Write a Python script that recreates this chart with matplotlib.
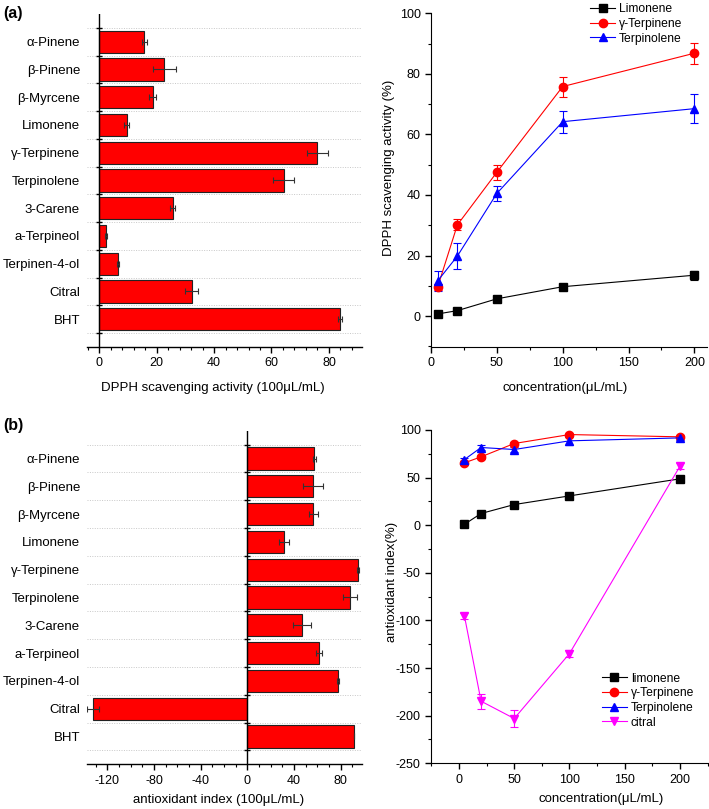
import numpy as np
import matplotlib
matplotlib.use("Agg")
import matplotlib.pyplot as plt
from matplotlib.ticker import MultipleLocator
from matplotlib.lines import Line2D

plt.rcParams['font.family'] = ['Liberation Sans', 'DejaVu Sans']
plt.rcParams['font.size'] = 9.5
plt.rcParams['axes.unicode_minus'] = False

# data
compounds = ["α-Pinene", "β-Pinene", "β-Myrcene", "Limonene", "γ-Terpinene",
             "Terpinolene", "3-Carene", "a-Terpineol", "Terpinen-4-ol", "Citral", "BHT"]
dpph_bar = [15.8, 22.7, 18.7, 9.6, 75.9, 64.2, 25.6, 2.5, 6.7, 32.3, 83.7]
dpph_bar_err = [1.0, 3.9, 1.2, 0.8, 3.6, 3.7, 0.8, 0.3, 0.3, 2.3, 0.7]
aoi_bar = [57.4, 56.6, 56.6, 31.7, 94.6, 88.0, 47.1, 61.7, 78.0, -132.5, 91.4]
aoi_bar_err = [1.5, 8.6, 3.6, 4.3, 0.8, 6.4, 7.9, 2.5, 1.0, 5.0, 0.3]

conc = [5, 20, 50, 100, 200]
dpph_lim = [0.7, 1.8, 5.7, 9.7, 13.5]
dpph_lim_err = [0.5, 0.6, 0.6, 0.6, 1.5]
dpph_gter = [9.5, 30.1, 47.5, 75.8, 86.8]
dpph_gter_err = [1.0, 1.8, 2.5, 3.3, 3.4]
dpph_terp = [11.6, 19.8, 40.5, 64.2, 68.5]
dpph_terp_err = [3.3, 4.3, 2.5, 3.6, 4.7]

aoi_lim = [1.0, 12.3, 21.7, 30.8, 48.7]
aoi_lim_err = [3.0, 3.0, 2.0, 3.0, 3.5]
aoi_gter = [65.5, 71.8, 85.8, 95.2, 92.8]
aoi_gter_err = [2.0, 2.0, 2.0, 1.5, 1.5]
aoi_terp = [69.0, 81.6, 79.5, 88.6, 91.7]
aoi_terp_err = [2.0, 2.5, 2.5, 4.0, 2.0]
aoi_cit = [-95.6, -184.8, -203.0, -134.8, 62.0]
aoi_cit_err = [3.0, 7.9, 9.0, 3.5, 3.0]

fig = plt.figure(figsize=(7.09, 8.09), dpi=100)


def bar_panel(ax, vals, errs, xlim, major, minor, xlabel, lpad, lx):
    y = np.arange(len(compounds))
    ax.barh(y, vals, height=0.8, color='#ff0000', edgecolor='#222222', linewidth=0.8,
            xerr=errs, error_kw=dict(ecolor='#333333', elinewidth=0.8, capsize=2.5, capthick=0.8))
    ax.set_ylim(len(compounds), -1)
    ax.set_xlim(*xlim)
    bounds = np.arange(len(compounds) + 1) - 0.5
    ax.set_yticks(y)
    ax.set_yticklabels(compounds)
    ax.set_yticks(bounds, minor=True)
    ax.tick_params(axis='y', which='both', length=0, pad=5)
    ax.grid(axis='y', which='minor', ls=(0, (1, 1.5)), color='#c8c8c8', lw=0.7)
    ax.axvline(0, color='k', lw=1.0)
    ax.plot(np.zeros(len(bounds)), bounds, ls='none', marker='_', ms=5, mew=1.0, color='k')
    for s in ['left', 'right', 'top']:
        ax.spines[s].set_visible(False)
    ax.spines['bottom'].set_linewidth(1.0)
    ax.xaxis.set_major_locator(MultipleLocator(major))
    ax.xaxis.set_minor_locator(MultipleLocator(minor))
    ax.tick_params(axis='x', which='major', direction='out', length=4, width=1.0, labelsize=9)
    ax.tick_params(axis='x', which='minor', direction='out', length=2.5, width=0.8)
    ax.set_xlabel(xlabel, labelpad=lpad)
    ax.xaxis.label.set_x(lx)


def line_panel(ax, series, xlim, ylim, ymajor, yminor, ylabel, legend_xy, lpad, lx, ly, ypad):
    handles = []
    for vals, errs, color, marker, label in series:
        ax.errorbar(conc, vals, yerr=errs, color=color, marker=marker, ms=6, lw=0.8,
                    elinewidth=0.8, capsize=3, capthick=0.8)
        handles.append(Line2D([], [], color=color, marker=marker, ms=6, lw=0.8, label=label))
    ax.set_xlim(*xlim)
    ax.set_ylim(*ylim)
    for s in ['right', 'top']:
        ax.spines[s].set_visible(False)
    ax.xaxis.set_major_locator(MultipleLocator(50))
    ax.xaxis.set_minor_locator(MultipleLocator(25))
    ax.yaxis.set_major_locator(MultipleLocator(ymajor))
    ax.yaxis.set_minor_locator(MultipleLocator(yminor))
    ax.tick_params(which='major', direction='out', length=4, width=1.0, labelsize=9)
    ax.tick_params(which='minor', direction='out', length=2.5, width=0.8)
    ax.set_xlabel("concentration(μL/mL)", labelpad=lpad)
    ax.xaxis.label.set_x(lx)
    ax.set_ylabel(ylabel, labelpad=ypad)
    ax.yaxis.label.set_y(ly)
    ax.legend(handles=handles, loc='upper left', bbox_to_anchor=legend_xy,
              bbox_transform=fig.transFigure, frameon=False, borderpad=0, borderaxespad=0,
              labelspacing=0.22, handlelength=2.1, handletextpad=0.3, fontsize=8.7)


# (a) left
ax1 = fig.add_axes([0.1227, 0.5711, 0.3879, 0.4116])
bar_panel(ax1, dpph_bar, dpph_bar_err, (-4.2, 91.5), 20, 4,
          "DPPH scavenging activity (100μL/mL)", 9, 0.456)

# (a) right
ax2 = fig.add_axes([0.6079, 0.5711, 0.3889, 0.4125])
line_panel(ax2, [(dpph_lim, dpph_lim_err, 'black', 's', 'Limonene'),
                 (dpph_gter, dpph_gter_err, '#ff0000', 'o', 'γ-Terpinene'),
                 (dpph_terp, dpph_terp_err, '#0000ff', '^', 'Terpinolene')],
           (0, 209.4), (-10.2, 100), 20, 10, "DPPH scavenging activity (%)", (0.832, 0.996),
           9, 0.486, 0.538, 3)

# (b) left
ax3 = fig.add_axes([0.1227, 0.0553, 0.3879, 0.4123])
bar_panel(ax3, aoi_bar, aoi_bar_err, (-137.4, 98.3), 40, 10,
          "antioxidant index (100μL/mL)", 5, 0.479)

# (b) right
ax4 = fig.add_axes([0.6079, 0.0565, 0.3911, 0.412])
line_panel(ax4, [(aoi_lim, aoi_lim_err, 'black', 's', 'limonene'),
                 (aoi_gter, aoi_gter_err, '#ff0000', 'o', 'γ-Terpinene'),
                 (aoi_terp, aoi_terp_err, '#0000ff', '^', 'Terpinolene'),
                 (aoi_cit, aoi_cit_err, '#ff00ff', 'v', 'citral')],
           (-25.3, 225.6), (-250, 100), 50, 25, "antioxidant index(%)", (0.8487, 0.1685),
           5, 0.612, 0.545, -1.5)

fig.text(0.004, 0.992, "(a)", fontsize=11.5, fontweight='bold', va='top', ha='left')
fig.text(0.004, 0.483, "(b)", fontsize=11.5, fontweight='bold', va='top', ha='left')

fig.savefig("out.png", dpi=100)
